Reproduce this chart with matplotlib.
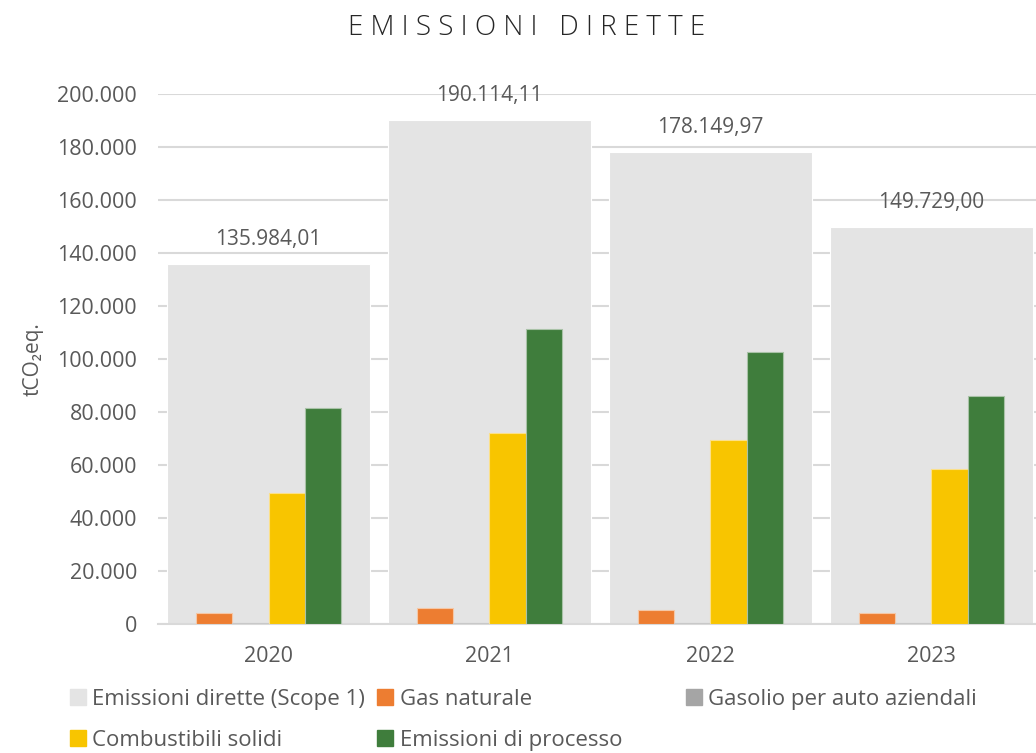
import matplotlib.pyplot as plt
import numpy as np
from matplotlib.ticker import FuncFormatter
from matplotlib.patches import Patch

# data (tCO2eq)
anni = ['2020', '2021', '2022', '2023']
totale = [135984.01, 190114.11, 178149.97, 149729.00]
gas_naturale = [4300, 5900, 5300, 4300]
gasolio = [500, 500, 500, 500]
combustibili = [49500, 72200, 69400, 58400]
processo = [81600, 111300, 102700, 86000]

col_tot = '#e4e4e4'
col_gas = '#ed7d31'
col_gasolio = '#a5a5a5'
col_comb = '#f8c500'
col_proc = '#3f7d3c'
txt = '#595959'

plt.rcParams['font.family'] = ['Open Sans', 'DejaVu Sans']


def fmt_it(v, decimali=0):
    s = f'{v:,.{decimali}f}'
    return s.replace(',', 'X').replace('.', ',').replace('X', '.')


fig = plt.figure(figsize=(10.36, 7.53), dpi=100)
ax = fig.add_axes([158 / 1036, 129 / 753, 884 / 1036, 530 / 753])

x = np.arange(len(anni))
w_small = 0.163

ax.bar(x, totale, width=0.915, color=col_tot, edgecolor='white', linewidth=0.8, zorder=2)
ax.bar(x - 1.5 * w_small, gas_naturale, width=w_small, color=col_gas, edgecolor='#f5c7a6', linewidth=0.8, zorder=3)
ax.bar(x - 0.5 * w_small, gasolio, width=w_small, color=col_gasolio, edgecolor='#c8c8c8', linewidth=0.8, zorder=3)
ax.bar(x + 0.5 * w_small, combustibili, width=w_small, color=col_comb, edgecolor='#fbe08a', linewidth=0.8, zorder=3)
ax.bar(x + 1.5 * w_small, processo, width=w_small, color=col_proc, edgecolor='#a9c2a7', linewidth=0.8, zorder=3)

for xi, v in zip(x, totale):
    ax.annotate(fmt_it(v, 2), (xi, v), xytext=(0, 10), textcoords='offset points',
                ha='center', va='bottom', fontsize=15, color=txt)

ax.set_xlim(-0.5, 3.5)
ax.set_ylim(0, 200000)
ax.set_yticks(np.arange(0, 200001, 20000))
ax.yaxis.set_major_formatter(FuncFormatter(lambda v, p: fmt_it(v)))
ax.set_xticks(x)
ax.set_xticklabels(anni)
ax.tick_params(length=0, labelsize=15.5, colors=txt)
ax.tick_params(axis='x', pad=16)
ax.tick_params(axis='y', pad=15)
ax.grid(axis='y', color='#d9d9d9', linewidth=1.5, zorder=0)
ax.set_axisbelow(True)
for s in ['top', 'right', 'left']:
    ax.spines[s].set_visible(False)
ax.spines['bottom'].set_color('#d9d9d9')
ax.spines['bottom'].set_linewidth(1.5)

ax.set_ylabel('tCO₂eq.', fontsize=15, color=txt, labelpad=10)

fig.text(527 / 1036, 1 - 28 / 753, 'E M I S S I O N I   D I R E T T E', ha='center', va='center',
         fontsize=20, color='#262626', fontweight='light')

# legend: first two columns, then the third one placed further right
h = [Patch(color=col_tot), Patch(color=col_comb), Patch(color=col_gas), Patch(color=col_proc)]
lab = ['Emissioni dirette (Scope 1)', 'Combustibili solidi', 'Gas naturale', 'Emissioni di processo']
leg_kw = dict(loc='upper left', frameon=False, fontsize=16, handlelength=0.7, handleheight=0.7,
              handletextpad=0.3, labelspacing=0.9, borderpad=0, borderaxespad=0, labelcolor=txt)
fig.legend(h, lab, ncol=2, columnspacing=0.55, bbox_to_anchor=(70 / 1036, 1 - 689 / 753), **leg_kw)
fig.legend([Patch(color=col_gasolio)], ['Gasolio per auto aziendali'],
           bbox_to_anchor=(686 / 1036, 1 - 689 / 753), **leg_kw)

fig.savefig('out.png', dpi=100)
